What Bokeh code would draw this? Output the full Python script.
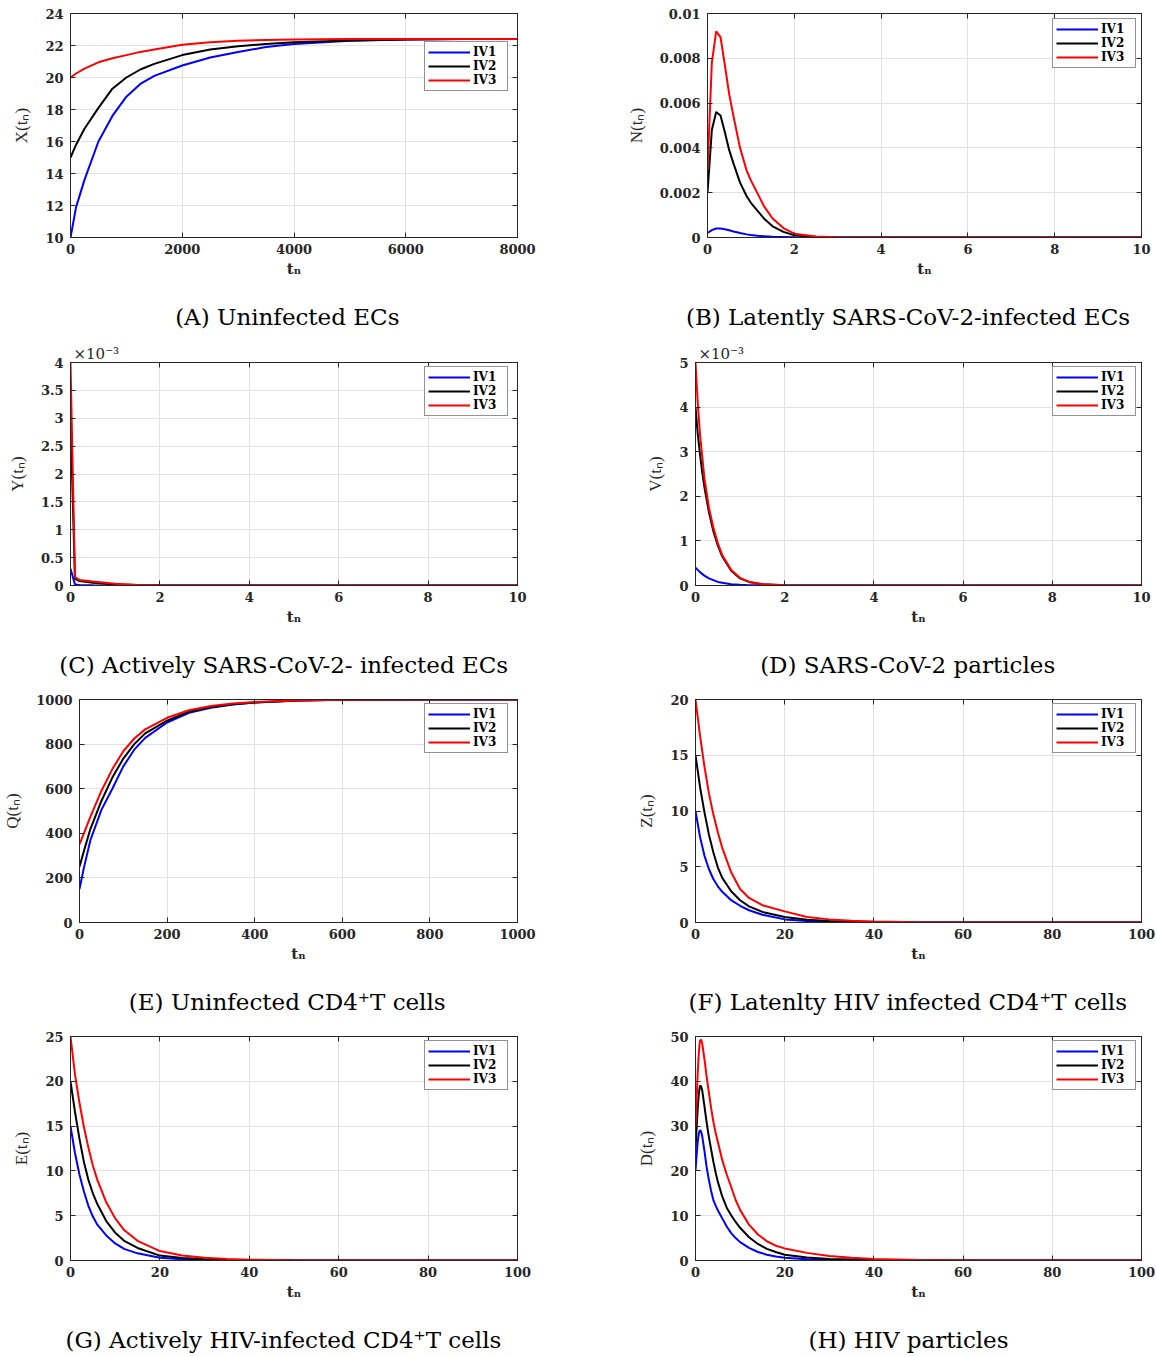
from bokeh.plotting import figure
from bokeh.layouts import column, row
from bokeh.models import (FixedTicker, LinearAxis, Range1d, Legend, LegendItem,
                          Title, CustomJSTickFormatter)
from bokeh.embed import file_html
from bokeh.resources import INLINE

# ---------------- data ----------------
LEGEND_LABELS = ["IV1", "IV2", "IV3"]

# (A) Uninfected ECs : X(t_n)
t_A = [0, 100, 250, 500, 750, 1000, 1250, 1500, 2000, 2500, 3000, 3500, 4000, 5000, 6000, 7000, 8000]
X_iv1 = [10, 11.9, 13.6, 16.0, 17.6, 18.8, 19.6, 20.1, 20.75, 21.25, 21.6, 21.9, 22.1, 22.3, 22.38, 22.4, 22.4]
X_iv2 = [15, 15.8, 16.8, 18.1, 19.3, 20.0, 20.5, 20.85, 21.4, 21.75, 21.95, 22.1, 22.2, 22.32, 22.38, 22.4, 22.4]
X_iv3 = [20, 20.25, 20.55, 20.95, 21.2, 21.4, 21.6, 21.75, 22.04, 22.2, 22.29, 22.35, 22.38, 22.4, 22.4, 22.4, 22.4]

# (B) Latently SARS-CoV-2-infected ECs : N(t_n)
t_B = [0, 0.1, 0.2, 0.3, 0.4, 0.5, 0.6, 0.75, 0.9, 1.0, 1.15, 1.3, 1.5, 1.75, 2.0, 2.5, 3, 4, 10]
N_iv1 = [0.0002, 0.00033, 0.0004, 0.0004, 0.00037, 0.00032, 0.00027, 0.0002, 0.00014, 0.00011,
         0.00008, 0.00006, 0.00003, 0.00002, 0.00001, 0.000003, 0.000001, 0, 0]
N_iv2 = [0.002, 0.0048, 0.0056, 0.00545, 0.0047, 0.0039, 0.0033, 0.00245, 0.00185, 0.00155,
         0.0012, 0.00085, 0.0005, 0.00025, 0.0001, 0.00002, 0.000005, 0, 0]
N_iv3 = [0.003, 0.0078, 0.0092, 0.00895, 0.0077, 0.0064, 0.0054, 0.004, 0.003, 0.00255,
         0.00198, 0.0014, 0.00085, 0.00042, 0.00017, 0.00004, 0.00001, 0, 0]

# (C) Actively SARS-CoV-2-infected ECs : Y(t_n), in units of 1e-3
t_C = [0, 0.1, 0.2, 0.5, 1.0, 1.5, 2.0, 3.0, 10]
Y_iv1 = [0.3, 0.02, 0.01, 0.005, 0.002, 0.001, 0, 0, 0]
Y_iv2 = [3.0, 0.12, 0.08, 0.05, 0.02, 0.007, 0.003, 0, 0]
Y_iv3 = [4.0, 0.15, 0.1, 0.07, 0.03, 0.01, 0.005, 0, 0]

# (D) SARS-CoV-2 particles : V(t_n), in units of 1e-3
t_D = [0, 0.05, 0.1, 0.15, 0.2, 0.3, 0.4, 0.5, 0.6, 0.8, 1.0, 1.2, 1.5, 2.0, 3.0, 10]
V_iv1 = [0.4, 0.35, 0.3, 0.26, 0.22, 0.16, 0.12, 0.08, 0.06, 0.03, 0.015, 0.008, 0.003, 0, 0, 0]
V_iv2 = [4.0, 3.4, 2.95, 2.55, 2.2, 1.65, 1.22, 0.9, 0.65, 0.33, 0.16, 0.08, 0.03, 0.005, 0, 0]
V_iv3 = [5.0, 4.1, 3.4, 2.9, 2.4, 1.75, 1.3, 0.95, 0.68, 0.35, 0.17, 0.08, 0.03, 0.005, 0, 0]

# (E) Uninfected CD4+T cells : Q(t_n)
t_E = [0, 10, 25, 50, 75, 100, 125, 150, 200, 250, 300, 350, 400, 500, 600, 800, 1000]
Q_iv1 = [150, 245, 370, 505, 600, 700, 775, 828, 897, 940, 963, 977, 986, 995, 999, 1000, 1000]
Q_iv2 = [250, 320, 420, 545, 650, 735, 800, 848, 905, 945, 966, 979, 987, 995, 999, 1000, 1000]
Q_iv3 = [350, 400, 475, 590, 688, 768, 825, 866, 918, 952, 971, 982, 989, 996, 999, 1000, 1000]

# (F) Latently HIV infected CD4+T cells : Z(t_n)
t_F = [0, 1, 2, 3, 4, 5, 6, 8, 10, 12, 15, 20, 25, 30, 35, 40, 50, 60, 100]
Z_iv1 = [10, 7.7, 6.0, 4.8, 3.9, 3.25, 2.75, 2.0, 1.5, 1.1, 0.7, 0.28, 0.13, 0.07, 0.04, 0.02, 0.005, 0, 0]
Z_iv2 = [15, 12.2, 9.9, 7.9, 6.3, 4.95, 4.0, 2.8, 2.0, 1.45, 0.95, 0.5, 0.25, 0.13, 0.07, 0.04, 0.01, 0, 0]
Z_iv3 = [20, 16.8, 14.0, 11.6, 9.7, 8.1, 6.7, 4.5, 3.0, 2.2, 1.55, 1.0, 0.5, 0.28, 0.15, 0.08, 0.02, 0, 0]

# (G) Actively HIV-infected CD4+T cells : E(t_n)
t_G = [0, 1, 2, 3, 4, 5, 6, 8, 10, 12, 15, 20, 25, 30, 35, 40, 50, 60, 100]
E_iv1 = [15, 12.0, 9.6, 7.7, 6.1, 4.9, 4.0, 2.8, 1.9, 1.3, 0.8, 0.3, 0.15, 0.07, 0.04, 0.02, 0, 0, 0]
E_iv2 = [20, 16.6, 13.6, 11.0, 9.0, 7.5, 6.3, 4.4, 3.1, 2.2, 1.4, 0.55, 0.28, 0.14, 0.07, 0.04, 0.01, 0, 0]
E_iv3 = [25, 20.8, 17.6, 14.9, 12.6, 10.6, 9.0, 6.5, 4.7, 3.4, 2.2, 1.05, 0.55, 0.3, 0.16, 0.08, 0.02, 0, 0]

# (H) HIV particles : D(t_n)
t_H = [0, 0.25, 0.5, 0.75, 1.0, 1.25, 1.5, 2, 2.5, 3, 3.5, 4, 4.5, 5, 6, 7, 8, 9, 10,
       12, 14, 16, 18, 20, 25, 30, 35, 40, 50, 60, 70, 100]
D_iv1 = [20, 23.5, 26.5, 28.4, 29.1, 28.8, 27.8, 24.5, 20.8, 18.0, 15.5, 13.5, 12.3, 11.2, 9.4, 7.6,
         6.1, 5.0, 4.1, 2.8, 1.9, 1.3, 0.9, 0.6, 0.3, 0.15, 0.08, 0.04, 0.01, 0, 0, 0]
D_iv2 = [25, 29.5, 34, 37.3, 39.0, 38.9, 38.0, 34.5, 30.8, 27.6, 24.8, 22.1, 19.7, 17.6, 14.3, 11.8,
         10.1, 8.6, 7.3, 5.2, 3.7, 2.6, 1.9, 1.3, 0.65, 0.35, 0.2, 0.1, 0.03, 0.01, 0, 0]
D_iv3 = [30, 36, 42, 46.5, 49.0, 49.3, 48.5, 45, 41, 37.5, 34.0, 31, 28.6, 26.5, 22.4, 19.2,
         16.4, 13.5, 11.3, 8.0, 5.8, 4.3, 3.3, 2.7, 1.7, 1.0, 0.6, 0.35, 0.1, 0.03, 0.01, 0]

# tick positions
ticks_x_A = [0, 2000, 4000, 6000, 8000]
ticks_y_A = [10, 12, 14, 16, 18, 20, 22, 24]
ticks_x_10 = [0, 2, 4, 6, 8, 10]
ticks_y_B = [0, 0.002, 0.004, 0.006, 0.008, 0.01]
ticks_y_C = [0, 0.5, 1, 1.5, 2, 2.5, 3, 3.5, 4]
ticks_y_D = [0, 1, 2, 3, 4, 5]
ticks_E = [0, 200, 400, 600, 800, 1000]
ticks_x_100 = [0, 20, 40, 60, 80, 100]
ticks_y_F = [0, 5, 10, 15, 20]
ticks_y_G = [0, 5, 10, 15, 20, 25]
ticks_y_H = [0, 10, 20, 30, 40, 50]

# ---------------- styling / layout ----------------
LINE_COLORS = ["#0000ff", "#000000", "#ff0000"]
AXIS_COLOR = "#262626"
GRID_COLOR = "#e2e2e2"
LEFT_W, RIGHT_W = 578, 578
ROW_H = [338, 346, 338, 332]
ROW_TOP = [13, 24, 15, 14]
ROW_FRAME_H = [224, 223, 223, 224]
CAP_GAP = 21          # empty space between the x-axis block and the caption
LEG_W, LEG_H = 82, 48
CAP_FONT, CAP_SIZE = "DejaVu Serif", 23

# approximate advance widths (em) of DejaVu Serif, used to centre the captions
CHAR_W = {' ': 0.318, '(': 0.390, ')': 0.390, '-': 0.338, '2': 0.636, '4': 0.636, '⁺': 0.53,
          'A': 0.722, 'B': 0.735, 'C': 0.765, 'D': 0.802, 'E': 0.730, 'F': 0.694, 'G': 0.799,
          'H': 0.872, 'I': 0.395, 'L': 0.637, 'O': 0.820, 'R': 0.770, 'S': 0.685, 'T': 0.668,
          'V': 0.722, 'a': 0.596, 'c': 0.560, 'd': 0.640, 'e': 0.592, 'f': 0.370, 'i': 0.320,
          'l': 0.320, 'n': 0.644, 'o': 0.602, 'p': 0.640, 'r': 0.478, 's': 0.513, 't': 0.402,
          'u': 0.644, 'v': 0.565, 'y': 0.565}


def text_width(s, size):
    return size * sum(CHAR_W.get(ch, 0.6) for ch in s)


panels = [
    dict(t=t_A, ys=[X_iv1, X_iv2, X_iv3], xr=(0, 8000), yr=(10, 24), xt=ticks_x_A, yt=ticks_y_A,
         ylab="X(tₙ)", cap="(A) Uninfected ECs", bl=70, leg_top=30, cap_cx=214),
    dict(t=t_B, ys=[N_iv1, N_iv2, N_iv3], xr=(0, 10), yr=(0, 0.01), xt=ticks_x_10, yt=ticks_y_B,
         ylab="N(tₙ)", cap="(B) Latently SARS-CoV-2-infected ECs", bl=129, leg_top=7, cap_cx=201),
    dict(t=t_C, ys=[Y_iv1, Y_iv2, Y_iv3], xr=(0, 10), yr=(0, 4), xt=ticks_x_10, yt=ticks_y_C,
         ylab="Y(tₙ)", cap="(C) Actively SARS-CoV-2- infected ECs", bl=70, leg_top=6, cap_cx=214,
         expo="×10⁻³"),
    dict(t=t_D, ys=[V_iv1, V_iv2, V_iv3], xr=(0, 10), yr=(0, 5), xt=ticks_x_10, yt=ticks_y_D,
         ylab="V(tₙ)", cap="(D) SARS-CoV-2 particles", bl=117, leg_top=6, cap_cx=213,
         expo="×10⁻³"),
    dict(t=t_E, ys=[Q_iv1, Q_iv2, Q_iv3], xr=(0, 1000), yr=(0, 1000), xt=ticks_E, yt=ticks_E,
         ylab="Q(tₙ)", cap="(E) Uninfected CD4⁺T cells", bl=79, leg_top=6, cap_cx=205),
    dict(t=t_F, ys=[Z_iv1, Z_iv2, Z_iv3], xr=(0, 100), yr=(0, 20), xt=ticks_x_100, yt=ticks_y_F,
         ylab="Z(tₙ)", cap="(F) Latenlty HIV infected CD4⁺T cells", bl=117, leg_top=6, cap_cx=212),
    dict(t=t_G, ys=[E_iv1, E_iv2, E_iv3], xr=(0, 100), yr=(0, 25), xt=ticks_x_100, yt=ticks_y_G,
         ylab="E(tₙ)", cap="(G) Actively HIV-infected CD4⁺T cells", bl=70, leg_top=6, cap_cx=214),
    dict(t=t_H, ys=[D_iv1, D_iv2, D_iv3], xr=(0, 100), yr=(0, 50), xt=ticks_x_100, yt=ticks_y_H,
         ylab="D(tₙ)", cap="(H) HIV particles", bl=117, leg_top=6, cap_cx=213),
]


def build(spec, idx):
    r, c = divmod(idx, 2)
    W = LEFT_W if c == 0 else RIGHT_W
    H = ROW_H[r]
    bl = spec["bl"]
    br = 61 if c == 0 else 15
    bt = ROW_TOP[r]
    fh = ROW_FRAME_H[r]
    bb = H - bt - fh
    fw = W - bl - br

    p = figure(width=W, height=H, x_range=Range1d(*spec["xr"]), y_range=Range1d(*spec["yr"]),
               output_backend="svg", toolbar_location=None,
               min_border_left=bl, min_border_right=br, min_border_top=bt, min_border_bottom=bb)
    p.background_fill_color = "white"
    p.border_fill_color = "white"
    p.outline_line_color = AXIS_COLOR
    p.outline_line_width = 1

    xt = FixedTicker(ticks=spec["xt"], minor_ticks=[])
    yt = FixedTicker(ticks=spec["yt"], minor_ticks=[])
    fmt = CustomJSTickFormatter(code="return String(parseFloat(tick.toPrecision(12)));")
    xa, ya = p.xaxis[0], p.yaxis[0]
    xa.ticker = xt
    ya.ticker = yt
    p.xgrid[0].ticker = xt
    p.ygrid[0].ticker = yt
    p.grid.grid_line_color = GRID_COLOR
    p.grid.grid_line_width = 1
    for ax in (xa, ya):
        ax.formatter = fmt
        ax.axis_line_color = AXIS_COLOR
        ax.major_tick_line_color = AXIS_COLOR
        ax.major_tick_in = 5
        ax.major_tick_out = 0
        ax.minor_tick_line_color = None
        ax.major_label_text_font = "DejaVu Serif"
        ax.major_label_text_font_style = "bold"
        ax.major_label_text_font_size = "13px"
        ax.major_label_text_color = AXIS_COLOR
    xa.major_label_standoff = 6
    ya.major_label_standoff = 7
    xa.axis_label = "tₙ"
    xa.axis_label_text_font = "DejaVu Serif"
    xa.axis_label_text_font_style = "bold"
    xa.axis_label_text_font_size = "15px"
    xa.axis_label_text_color = AXIS_COLOR
    xa.axis_label_standoff = 3
    ya.axis_label = spec["ylab"]
    ya.axis_label_text_font = "Liberation Serif"
    ya.axis_label_text_font_style = "normal"
    ya.axis_label_text_font_size = "17px"
    ya.axis_label_text_color = AXIS_COLOR
    ya.axis_label_standoff = 11

    # box ticks on the top and right edges (no labels)
    for tk, side in ((xt, "above"), (yt, "right")):
        extra = LinearAxis(ticker=tk, axis_line_color=AXIS_COLOR, major_tick_line_color=AXIS_COLOR,
                           major_tick_in=5, major_tick_out=0, minor_tick_line_color=None,
                           major_label_text_font_size="1px", major_label_text_color=None,
                           major_label_standoff=0)
        p.add_layout(extra, side)

    rends = []
    for y, col in zip(spec["ys"], LINE_COLORS):
        rends.append(p.line(spec["t"], y, line_color=col, line_width=2))

    leg_right = 11 if c == 0 else 7
    legend = Legend(items=[LegendItem(label=l, renderers=[rr]) for l, rr in zip(LEGEND_LABELS, rends)],
                    location=(fw - leg_right - LEG_W, fh - spec["leg_top"] - LEG_H),
                    border_line_color=AXIS_COLOR, border_line_width=1,
                    background_fill_color="white", background_fill_alpha=1,
                    label_text_font="DejaVu Serif", label_text_font_style="bold",
                    label_text_font_size="12px", label_text_color="black",
                    glyph_width=42, glyph_height=14, label_height=14, label_width=31,
                    label_standoff=3, padding=3, spacing=0, margin=0)
    p.add_layout(legend)

    if spec.get("expo"):
        p.add_layout(Title(text=spec["expo"], align="left", offset=3, standoff=0,
                           vertical_align="bottom", text_font="DejaVu Serif",
                           text_font_size="15px", text_font_style="normal",
                           text_color=AXIS_COLOR), "above")

    # invisible spacer between the x axis block and the caption (one hidden tick)
    p.add_layout(LinearAxis(ticker=FixedTicker(ticks=[spec["xt"][0]], minor_ticks=[]),
                            axis_line_color=None, major_tick_line_color=None,
                            minor_tick_line_color=None, major_tick_in=0, major_tick_out=CAP_GAP,
                            major_label_text_color=None, major_label_text_font_size="1px",
                            major_label_standoff=0), "below")
    cap_off = spec["cap_cx"] - text_width(spec["cap"], CAP_SIZE) / 2
    p.add_layout(Title(text=spec["cap"], align="left", offset=cap_off, standoff=0,
                       vertical_align="bottom", text_font=CAP_FONT,
                       text_font_size=f"{CAP_SIZE}px", text_font_style="normal",
                       text_color="black"), "below")
    return p


figs = [build(s, i) for i, s in enumerate(panels)]
layout = column(row(figs[0], figs[1]), row(figs[2], figs[3]),
                row(figs[4], figs[5]), row(figs[6], figs[7]))

open("out.html", "w").write(file_html(layout, INLINE, title="Solutions for IV1-IV3"))
